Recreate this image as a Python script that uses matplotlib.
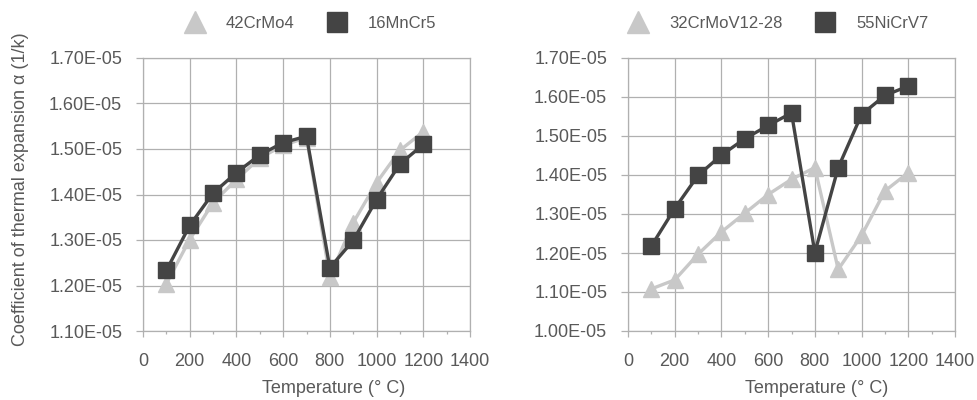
import matplotlib
matplotlib.use("Agg")
import matplotlib.pyplot as plt
from matplotlib.lines import Line2D
from matplotlib.ticker import MultipleLocator, FuncFormatter

plt.rcParams['font.family'] = ['Liberation Sans', 'DejaVu Sans']

# Data (values in 1/K)
temps = [100, 200, 300, 400, 500, 600, 700, 800, 900, 1000, 1100, 1200]

crmo4_42 = [1.204, 1.301, 1.382, 1.433, 1.480, 1.508, 1.525, 1.219, 1.338, 1.426, 1.497, 1.538]
mncr5_16 = [1.233, 1.332, 1.403, 1.448, 1.487, 1.514, 1.528, 1.239, 1.299, 1.389, 1.467, 1.510]

crmov_32 = [1.108, 1.131, 1.197, 1.254, 1.302, 1.350, 1.389, 1.419, 1.158, 1.245, 1.359, 1.406]
nicrv7_55 = [1.218, 1.314, 1.399, 1.451, 1.493, 1.527, 1.559, 1.201, 1.419, 1.555, 1.604, 1.628]

scale = 1e-5

light = '#c8c8c8'
dark = '#444444'
grid_c = '#b0b0b0'
text_c = '#595959'

fig = plt.figure(figsize=(9.78, 4.0), dpi=100)
ax1 = fig.add_axes([143 / 978, 69 / 400, 327 / 978, 273 / 400])
ax2 = fig.add_axes([628 / 978, 69 / 400, 327 / 978, 273 / 400])


def style_axis(ax, ylo):
    ax.set_xlim(0, 1400)
    ax.set_ylim(ylo * scale, 1.70 * scale)
    ax.xaxis.set_major_locator(MultipleLocator(200))
    ax.xaxis.set_minor_locator(MultipleLocator(100))
    ax.yaxis.set_major_locator(MultipleLocator(0.1 * scale))
    ax.yaxis.set_major_formatter(FuncFormatter(lambda v, p: f"{v:.2E}"))
    ax.grid(True, which='major', color=grid_c, linewidth=0.9)
    ax.set_axisbelow(True)
    for s in ax.spines.values():
        s.set_color(grid_c)
        s.set_linewidth(0.9)
    ax.tick_params(axis='both', which='major', colors=grid_c, labelcolor=text_c,
                   labelsize=13, width=0.9)
    ax.tick_params(axis='y', length=5, pad=10)
    ax.tick_params(axis='x', which='major', length=4.5, pad=11)
    ax.tick_params(axis='x', which='minor', length=2.2, width=0.9, colors=grid_c)
    ax.set_xlabel("Temperature (° C)", fontsize=13, color=text_c, va='top')


def draw(ax, lo_vals, hi_vals):
    ax.plot(temps, [v * scale for v in lo_vals], color=light, lw=2.4,
            marker='^', ms=11, mfc=light, mec=light, zorder=3, clip_on=False)
    ax.plot(temps, [v * scale for v in hi_vals], color=dark, lw=2.4,
            marker='s', ms=11, mfc=dark, mec=dark, zorder=4, clip_on=False)


draw(ax1, crmo4_42, mncr5_16)
draw(ax2, crmov_32, nicrv7_55)
style_axis(ax1, 1.10)
style_axis(ax2, 1.00)

ax1.xaxis.set_label_coords(0.584, -0.179)
ax2.xaxis.set_label_coords(0.578, -0.179)

fig.text(21 / 978, 211 / 400, "Coefficient of thermal expansion α (1/k)",
         rotation=90, ha='center', va='center', fontsize=13, color=text_c)


def add_legend(ax, names, cx):
    handles = [
        Line2D([], [], linestyle='none', marker='^', ms=16, color=light),
        Line2D([], [], linestyle='none', marker='s', ms=15, color=dark),
    ]
    ax.legend(handles, names, loc='center', bbox_to_anchor=(cx, 1 - 23 / 400),
              bbox_transform=fig.transFigure, ncol=2, frameon=False,
              fontsize=12, labelcolor=text_c, handlelength=1.5,
              handletextpad=1.1, columnspacing=1.8, borderaxespad=0)


add_legend(ax1, ["42CrMo4", "16MnCr5"], 309 / 978)
add_legend(ax2, ["32CrMoV12-28", "55NiCrV7"], 777 / 978)

fig.savefig("out.png", dpi=100)
